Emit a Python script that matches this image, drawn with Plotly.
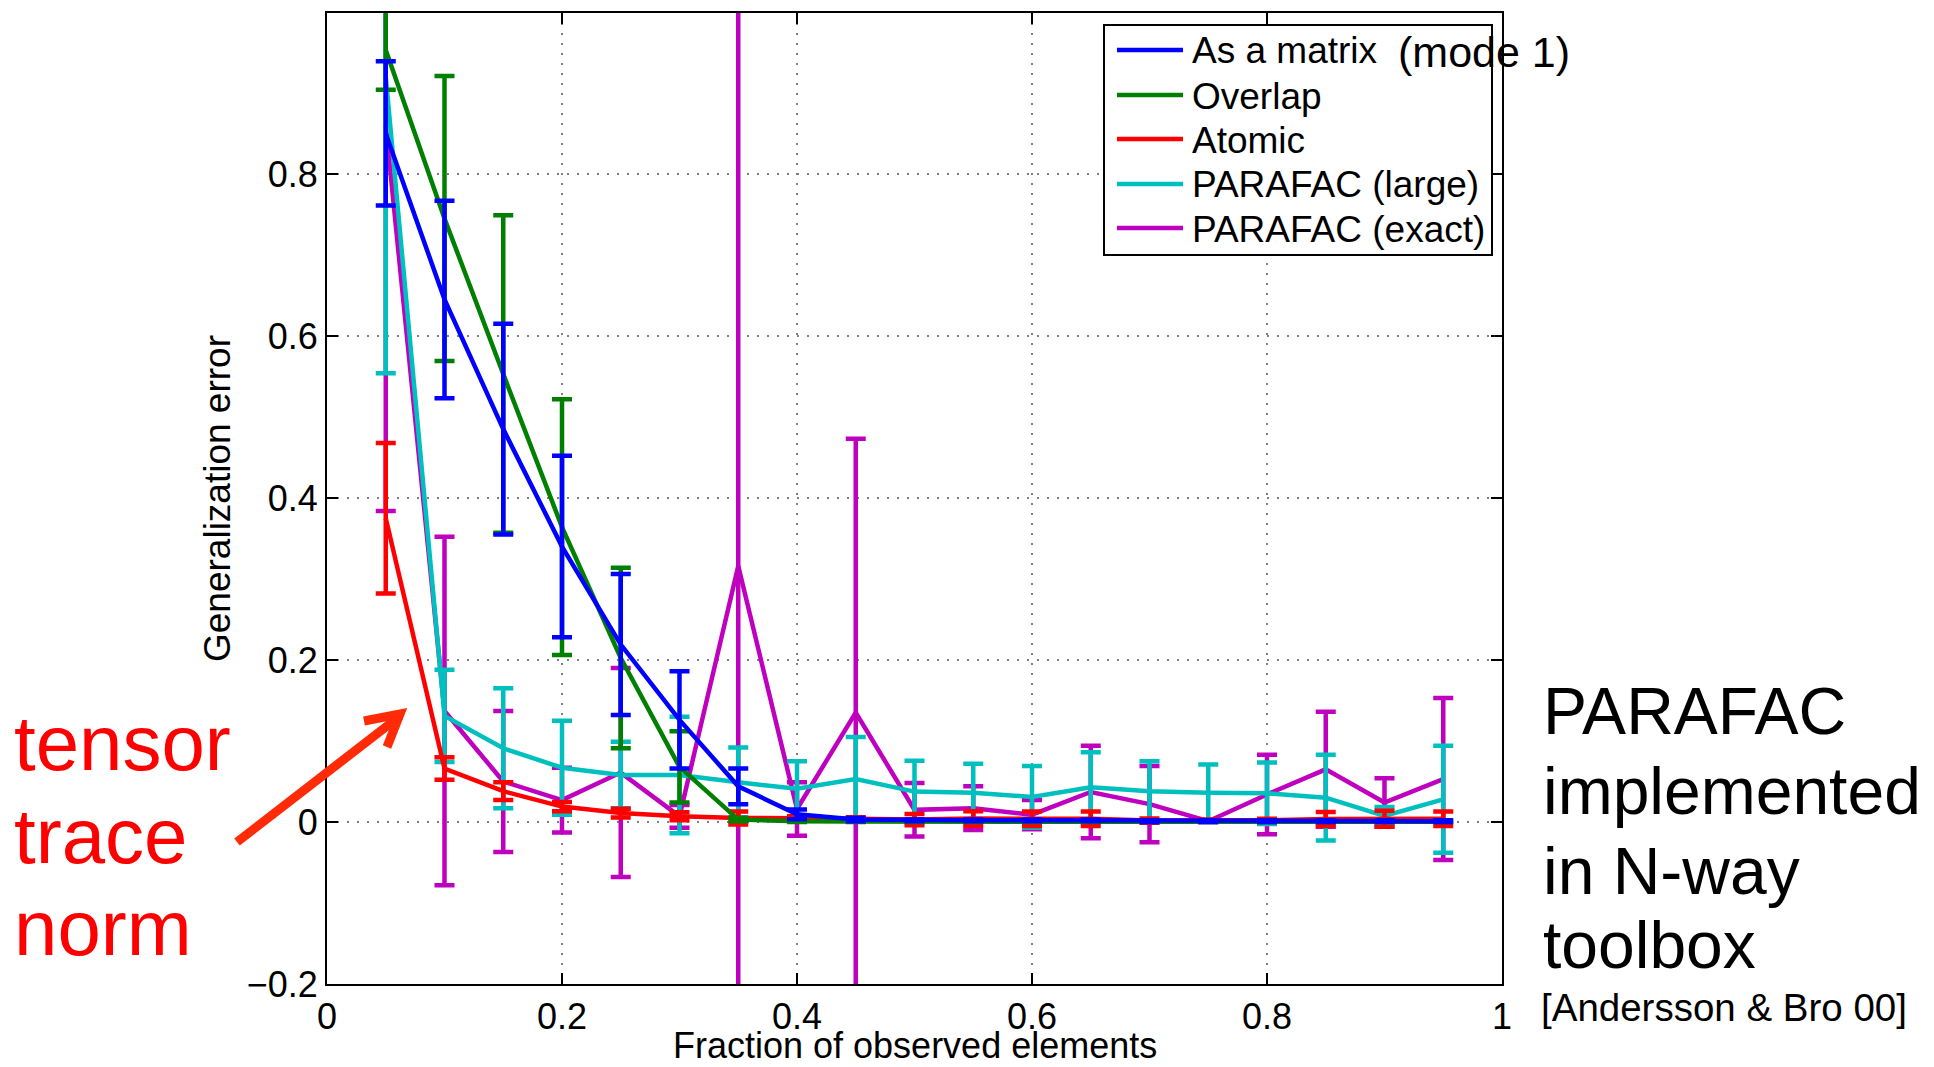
import plotly.graph_objects as go

# ---------------- data ----------------
frac = [0.05, 0.10, 0.15, 0.20, 0.25, 0.30, 0.35, 0.40, 0.45, 0.50,
        0.55, 0.60, 0.65, 0.70, 0.75, 0.80, 0.85, 0.90, 0.95]

matrix_mean = [0.85, 0.645, 0.485, 0.34, 0.219, 0.126, 0.044, 0.0095, 0.003, 0.002,
               0.002, 0.002, 0.002, 0.001, 0.001, 0.001, 0.001, 0.001, 0.001]
matrix_err = [0.089, 0.122, 0.13, 0.112, 0.087, 0.06, 0.022, 0.006, 0.002, 0.001,
              0.001, 0.001, 0.001, 0.001, 0.001, 0.001, 0.001, 0.001, 0.001]

overlap_mean = [0.953, 0.745, 0.553, 0.364, 0.2025, 0.068, 0.003, 0.001, 0.0005, 0.0003,
                0.0003, 0.0003, 0.0003, 0.0003, 0.0003, 0.0003, 0.0003, 0.0003, 0.0003]
overlap_err = [0.049, 0.176, 0.196, 0.158, 0.1115, 0.044, 0.002, 0.001, 0.0005, 0.0003,
               0.0003, 0.0003, 0.0003, 0.0003, 0.0003, 0.0003, 0.0003, 0.0003, 0.0003]

atomic_mean = [0.375, 0.066, 0.038, 0.019, 0.011, 0.007, 0.005, 0.005, 0.004, 0.003,
               0.0044, 0.004, 0.004, 0.0017, 0.002, 0.002, 0.0037, 0.004, 0.004]
atomic_err = [0.093, 0.014, 0.011, 0.0057, 0.0055, 0.005, 0.008, 0.002, 0.002, 0.007,
              0.009, 0.009, 0.009, 0.0025, 0.001, 0.002, 0.0087, 0.01, 0.009]

large_mean = [0.92, 0.131, 0.091, 0.067, 0.058, 0.058, 0.049, 0.041, 0.053, 0.0375,
              0.036, 0.031, 0.043, 0.038, 0.036, 0.0354, 0.030, 0.0074, 0.028]
large_err = [0.366, 0.057, 0.074, 0.058, 0.041, 0.072, 0.043, 0.034, 0.052, 0.038,
             0.036, 0.038, 0.043, 0.037, 0.035, 0.038, 0.053, 0.011, 0.066]

exact_mean = [0.86, 0.137, 0.05, 0.027, 0.061, 0.007, 0.316, 0.016, 0.135, 0.015,
              0.017, 0.009, 0.037, 0.022, 0.001, 0.034, 0.065, 0.024, 0.053]
exact_err = [0.476, 0.215, 0.087, 0.04, 0.129, 0.014, 0.9, 0.033, 0.338, 0.033,
             0.027, 0.018, 0.057, 0.047, 0.001, 0.049, 0.071, 0.03, 0.1]

series_names = ["As a matrix", "Overlap", "Atomic", "PARAFAC (large)", "PARAFAC (exact)"]
series_colors = ["#0000FF", "#008000", "#FF0000", "#00BFBF", "#BF00BF"]
series_means = [matrix_mean, overlap_mean, atomic_mean, large_mean, exact_mean]
series_errs = [matrix_err, overlap_err, atomic_err, large_err, exact_err]

x_ticks = [0, 0.2, 0.4, 0.6, 0.8, 1]
x_ticktext = ["0", "0.2", "0.4", "0.6", "0.8", "1"]
y_ticks = [-0.2, 0, 0.2, 0.4, 0.6, 0.8]
y_ticktext = ["\u22120.2", "0", "0.2", "0.4", "0.6", "0.8"]

# ---------------- layout geometry (page pixels) ----------------
PAGE_W, PAGE_H = 1934, 1067
OFF = 8                      # default body margin of the html page
W, H = PAGE_W - OFF, PAGE_H - OFF
L, R, T, B = 327, 1502, 13, 984   # plot area on the page
FONT = "Liberation Sans, Arial, Helvetica, sans-serif"


def px(xp):
    return (xp - L) / (R - L)


def py(yp):
    return (B - yp) / (B - T)


fig = go.Figure()

# data traces, drawn bottom -> top: exact, large, atomic, overlap, matrix
for i in [4, 3, 2, 1, 0]:
    fig.add_trace(go.Scatter(
        x=frac, y=series_means[i], mode="lines", name=series_names[i],
        showlegend=False, hoverinfo="skip",
        line=dict(color=series_colors[i], width=4.5),
        error_y=dict(type="data", array=series_errs[i], symmetric=True,
                     color=series_colors[i], thickness=4.5, width=10),
    ))

axis_common = dict(
    showline=True, linecolor="black", linewidth=2, mirror="ticks",
    ticks="inside", ticklen=11, tickwidth=1.5, tickcolor="black",
    showgrid=True, gridcolor="#7f7f7f", gridwidth=1.5, griddash="1.5px,8.5px",
    zeroline=False, tickfont=dict(family=FONT, size=36, color="black"),
    automargin=False,
)

fig.update_xaxes(range=[0, 1], tickvals=x_ticks, ticktext=x_ticktext,
                 **axis_common)
fig.update_yaxes(range=[-0.2, 0.9987], tickvals=y_ticks, ticktext=y_ticktext,
                 title=dict(text="Generalization error",
                            font=dict(family=FONT, size=37, color="black"),
                            standoff=5),
                 **axis_common)

annotations = []
shapes = []

# x-axis title (placed as paper annotation for exact position)
annotations.append(dict(xref="paper", yref="paper", x=0.5, y=py(1045),
                        xanchor="center", yanchor="middle", showarrow=False,
                        text="Fraction of observed elements",
                        font=dict(family=FONT, size=36, color="black")))

# ---- legend (box, line samples, labels) ----
LEG_X0, LEG_X1, LEG_Y0, LEG_Y1 = 1104, 1492, 25, 255
row_y = [50, 95, 139, 184, 228]
shapes.append(dict(type="rect", xref="paper", yref="paper",
                   x0=px(LEG_X0), x1=px(LEG_X1), y0=py(LEG_Y1), y1=py(LEG_Y0),
                   fillcolor="white", line=dict(color="black", width=2), layer="above"))
for name, col, yr in zip(series_names, series_colors, row_y):
    shapes.append(dict(type="line", xref="paper", yref="paper",
                       x0=px(1117), x1=px(1183), y0=py(yr), y1=py(yr),
                       line=dict(color=col, width=4.5), layer="above"))
    annotations.append(dict(xref="paper", yref="paper", x=px(1190), y=py(yr + 1),
                            xanchor="left", yanchor="middle", showarrow=False,
                            text=name, font=dict(family=FONT, size=37, color="black")))

# "(mode 1)" overlapping the legend
annotations.append(dict(xref="paper", yref="paper", x=px(1396), y=py(52),
                        xanchor="left", yanchor="middle", showarrow=False,
                        text="(mode 1)", font=dict(family=FONT, size=43, color="black")))
# red text left
for txt, yc in [("tensor", 743), ("trace", 836), ("norm", 928)]:
    annotations.append(dict(xref="paper", yref="paper", x=px(12), y=py(yc),
                            xanchor="left", yanchor="middle", showarrow=False,
                            text=txt, font=dict(family=FONT, size=78, color="#FF0000")))
# right text
for txt, yc in [("PARAFAC", 711), ("implemented", 791), ("in N-way", 871), ("toolbox", 945)]:
    annotations.append(dict(xref="paper", yref="paper", x=px(1541), y=py(yc),
                            xanchor="left", yanchor="middle", showarrow=False,
                            text=txt, font=dict(family=FONT, size=66, color="black")))
annotations.append(dict(xref="paper", yref="paper", x=px(1539), y=py(1008),
                        xanchor="left", yanchor="middle", showarrow=False,
                        text="[Andersson &amp; Bro 00]",
                        font=dict(family=FONT, size=38.5, color="black")))

# red arrow
ARROW = "#FF2A06"
shapes += [
    dict(type="line", xref="paper", yref="paper",
         x0=px(237), y0=py(842), x1=px(400), y1=py(716),
         line=dict(color=ARROW, width=9)),
    dict(type="path", xref="paper", yref="paper",
         path="M {:.5f},{:.5f} L {:.5f},{:.5f} L {:.5f},{:.5f}".format(
             px(364), py(721), px(400), py(714), px(387), py(747)),
         line=dict(color=ARROW, width=9)),
]

fig.update_layout(
    width=W, height=H,
    margin=dict(l=L - OFF, r=PAGE_W - R, t=T - OFF, b=PAGE_H - B, pad=0),
    paper_bgcolor="white", plot_bgcolor="white",
    font=dict(family=FONT, color="black"),
    showlegend=False,
    annotations=annotations,
    shapes=shapes,
)

fig.write_html("out.html")
